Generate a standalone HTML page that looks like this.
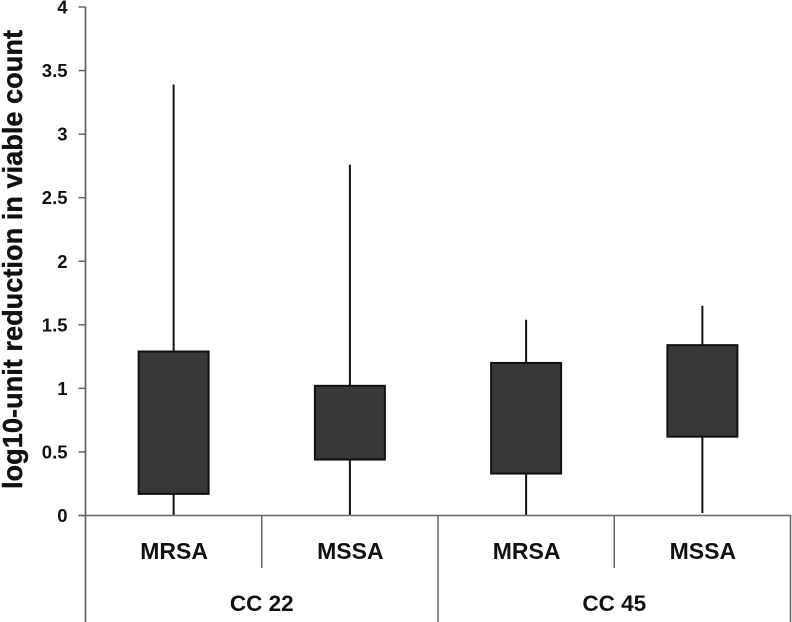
<!DOCTYPE html>
<html>
<head>
<meta charset="utf-8">
<style>
html,body{margin:0;padding:0;background:#fff;width:792px;height:622px;overflow:hidden}
svg{display:block}
text{font-family:"Liberation Sans",sans-serif;font-weight:bold;fill:#111}
</style>
</head>
<body>
<svg id="chart" width="792" height="622" viewBox="0 0 792 622" xmlns="http://www.w3.org/2000/svg">
<text transform="translate(22,489) rotate(-90)" font-size="27.5" stroke="#111" stroke-width="0.4" textLength="459" lengthAdjust="spacingAndGlyphs">log10-unit reduction in viable count</text>
</svg>
<script>
var categories = ['MRSA', 'MSSA', 'MRSA', 'MSSA'];
var groups = ['CC 22', 'CC 45'];
var whiskerHigh = [3.39, 2.76, 1.54, 1.65];
var boxTop = [1.29, 1.02, 1.20, 1.34];
var boxBottom = [0.17, 0.44, 0.33, 0.62];
var whiskerLow = [0, 0, 0, 0.02];
var tickValues = [0, 0.5, 1, 1.5, 2, 2.5, 3, 3.5, 4];
var tickLabels = ['0', '0.5', '1', '1.5', '2', '2.5', '3', '3.5', '4'];

var svg = document.getElementById('chart');
var NS = 'http://www.w3.org/2000/svg';
var left = 85.5, right = 790.5, y0 = 515.5, yTop = 7, yMax = 4;
var boxW = 70;
var axisColor = '#666';

function yScale(v) { return y0 - (v / yMax) * (y0 - yTop); }
function xBand(i) { return left + (right - left) / categories.length * i; }
function xCenter(i) { return xBand(i + 0.5); }

function makeLine(x1, y1, x2, y2, color, width) {
  var l = document.createElementNS(NS, 'line');
  l.setAttribute('x1', x1);
  l.setAttribute('y1', y1);
  l.setAttribute('x2', x2);
  l.setAttribute('y2', y2);
  l.setAttribute('stroke', color);
  l.setAttribute('stroke-width', width);
  svg.appendChild(l);
  return l;
}
function makeText(x, y, str, size, anchor) {
  var t = document.createElementNS(NS, 'text');
  t.setAttribute('x', x);
  t.setAttribute('y', y);
  t.setAttribute('font-size', size);
  t.setAttribute('text-anchor', anchor);
  t.textContent = str;
  svg.appendChild(t);
  return t;
}

tickValues.forEach(function (v, i) {
  var tick = makeLine(left - 7, yScale(v), left, yScale(v), axisColor, 1.5);
  
  
  var label = makeText(67.5, yScale(v) + 6.5, tickLabels[i], 18.5, 'end');
  
  
});

categories.forEach(function (c, i) {
  var cx = xCenter(i);
  var whisker = makeLine(cx, yScale(whiskerHigh[i]), cx, yScale(whiskerLow[i]), '#111', 2);
  
  
  var r = document.createElementNS(NS, 'rect');
  r.setAttribute('x', cx - boxW / 2);
  r.setAttribute('y', yScale(boxTop[i]));
  r.setAttribute('width', boxW);
  r.setAttribute('height', yScale(boxBottom[i]) - yScale(boxTop[i]));
  r.setAttribute('fill', '#383838');
  r.setAttribute('stroke', '#111');
  r.setAttribute('stroke-width', 2);
  
  
  svg.appendChild(r);
  var label = makeText(cx + 0.5, 559, c, 23, 'middle');
  
  
});

var yAxis = makeLine(left, yTop, left, 622, axisColor, 1.8);


var xAxis = makeLine(left - 7, y0, right + 1, y0, axisColor, 1.5);



[1, 3].forEach(function (k) {
  var sep = makeLine(xBand(k), y0, xBand(k), 568, axisColor, 1.5);
  
  
});
[2, 4].forEach(function (k) {
  var sep = makeLine(xBand(k), y0, xBand(k), 622, axisColor, 1.5);
  
  
});

groups.forEach(function (g, i) {
  var label = makeText(xBand(i * 2 + 1), 611, g, 22.5, 'middle');
  
  
});
</script>
</body>
</html>
